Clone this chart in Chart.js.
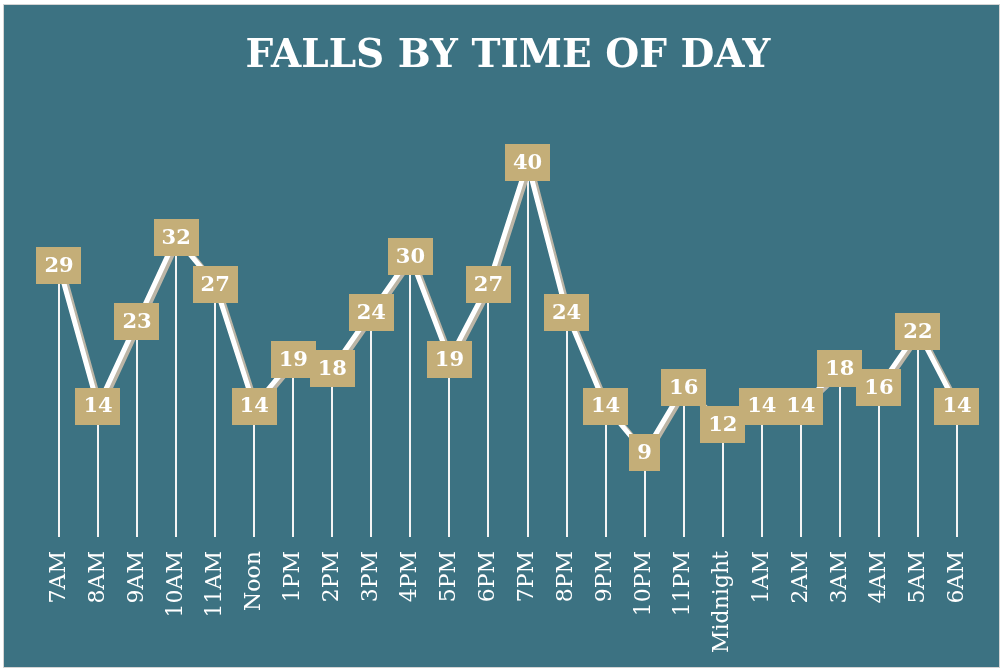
<!DOCTYPE html>
<html>
<head>
    <title>Falls by Time of Day</title>
    <script src="https://cdn.jsdelivr.net/npm/chart.js"></script>
    <style>
        body { margin: 0; background: #ffffff; }
        #frame {
            position: absolute; left: 3px; top: 4px;
            width: 995px; height: 662px;
            border: 1px solid #d4d4d4;
            background: #3c7282;
        }
    </style>
</head>
<body>
    <div id="frame">
        <canvas id="fallsChart" width="995" height="662"></canvas>
    </div>
    <script>
        const hours = ['7AM', '8AM', '9AM', '10AM', '11AM', 'Noon', '1PM', '2PM', '3PM', '4PM', '5PM', '6PM',
                       '7PM', '8PM', '9PM', '10PM', '11PM', 'Midnight', '1AM', '2AM', '3AM', '4AM', '5AM', '6AM'];
        const falls = [29, 14, 23, 32, 27, 14, 19, 18, 24, 30, 19, 27, 40, 24, 14, 9, 16, 12, 14, 14, 18, 16, 22, 14];

        const tan = '#c4ae78';
        const serif = '"DejaVu Serif", serif';

        // drop lines, line shadow and the tan value boxes
        const fallsPlugin = {
            id: 'fallsDecor',
            beforeDatasetsDraw(chart) {
                const ctx = chart.ctx;
                const meta = chart.getDatasetMeta(0);
                const base = chart.scales.y.getPixelForValue(0);
                ctx.save();
                ctx.strokeStyle = '#f4f4f4';
                ctx.lineWidth = 2;
                meta.data.forEach(p => {
                    ctx.beginPath();
                    ctx.moveTo(Math.round(p.x), p.y);
                    ctx.lineTo(Math.round(p.x), base);
                    ctx.stroke();
                });
                ctx.restore();
            },
            beforeDatasetDraw(chart) {
                const ctx = chart.ctx;
                ctx.save();
                ctx.shadowColor = '#bcb5a6';
                ctx.shadowOffsetX = 3;
                ctx.shadowOffsetY = 2;
                ctx.shadowBlur = 0;
            },
            afterDatasetDraw(chart) {
                chart.ctx.restore();
            },
            afterDatasetsDraw(chart) {
                const ctx = chart.ctx;
                const meta = chart.getDatasetMeta(0);
                const values = chart.data.datasets[0].data;
                ctx.save();
                ctx.font = 'bold 21px ' + serif;
                ctx.textAlign = 'center';
                ctx.textBaseline = 'middle';
                meta.data.forEach((p, i) => {
                    const txt = String(values[i]);
                    const w = ctx.measureText(txt).width + 16;
                    const h = 37;
                    ctx.fillStyle = tan;
                    ctx.fillRect(Math.round(p.x - w / 2), Math.round(p.y - h / 2), Math.round(w), h);
                    ctx.fillStyle = '#ffffff';
                    ctx.fillText(txt, p.x, p.y + 1);
                });
                ctx.restore();
            }
        };

        new Chart(document.getElementById('fallsChart'), {
            type: 'line',
            data: {
                labels: hours,
                datasets: [{
                    label: 'Falls',
                    data: falls,
                    borderColor: '#ffffff',
                    borderWidth: 5,
                    pointRadius: 0,
                    tension: 0,
                    fill: false
                }]
            },
            options: {
                responsive: false,
                animation: false,
                devicePixelRatio: 1,
                layout: { padding: { top: 18, left: 55, right: 42, bottom: 10 } },
                plugins: {
                    legend: { display: false },
                    tooltip: { enabled: false },
                    title: {
                        display: true,
                        text: 'FALLS BY TIME OF DAY',
                        color: '#ffffff',
                        font: { family: serif, size: 39, weight: 'bold', lineHeight: 1.2 },
                        padding: { top: 10, bottom: 83 }
                    }
                },
                scales: {
                    x: {
                        offset: false,
                        grid: { display: false, drawTicks: false },
                        border: { display: false },
                        ticks: {
                            color: '#ffffff',
                            font: { family: serif, size: 22 },
                            minRotation: 90,
                            maxRotation: 90,
                            padding: 14,
                            autoSkip: false
                        },
                        afterFit(scale) { scale.height = 120; }
                    },
                    y: {
                        display: false,
                        min: 0,
                        max: 40
                    }
                }
            },
            plugins: [fallsPlugin]
        });
    </script>
</body>
</html>
